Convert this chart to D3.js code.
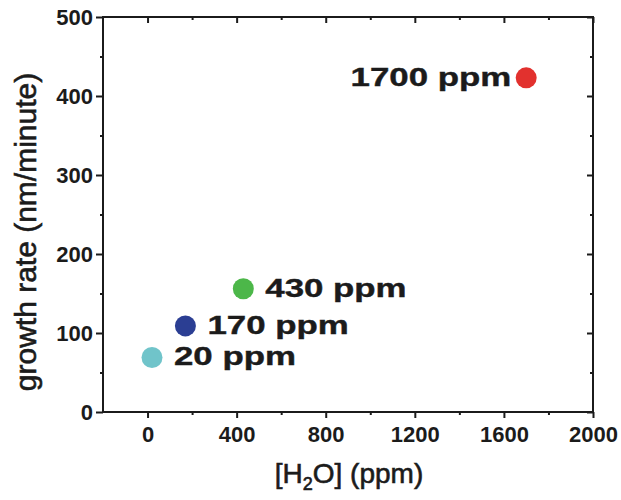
<!DOCTYPE html>
<html>
<head>
<meta charset="utf-8">
<script src="https://cdn.jsdelivr.net/npm/d3@7"></script>
<style>
  body { margin: 0; background: #fff; }
  text { font-family: "Liberation Sans", Arial, sans-serif; fill: #1b1b1b; }
</style>
</head>
<body>
<svg id="chart" width="621" height="500"></svg>
<script>
// Water concentration (ppm) vs. growth rate (nm/minute)
const concentrations = [20, 170, 430, 1700];
const growthRates = [69, 109, 156, 423];
const pointLabels = ["20 ppm", "170 ppm", "430 ppm", "1700 ppm"];
const pointColors = ["#70c4ca", "#2b3e93", "#4cb749", "#e2312e"];
const xMajorTicks = [0, 400, 800, 1200, 1600, 2000];
const xMinorTicks = [200, 600, 1000, 1400, 1800];
const yMajorTicks = [0, 100, 200, 300, 400, 500];
const yMinorTicks = [50, 150, 250, 350, 450];

const svg = d3.select("#chart");
const plot = { left: 103, right: 593, top: 17, bottom: 412 };

const x = d3.scaleLinear().domain([-200, 2000]).range([plot.left, plot.right]);
const y = d3.scaleLinear().domain([0, 500]).range([plot.bottom, plot.top]);

function styleAxis(g) {
  g.select(".domain").remove();
  g.selectAll(".tick line").attr("stroke", "#1b1b1b").attr("stroke-width", 2);
  g.selectAll(".tick text")
    .attr("font-size", 22)
    .attr("font-weight", "bold")
    .attr("fill", "#1b1b1b")
    .style("font-family", "'Liberation Sans', Arial, sans-serif");
}

// bottom axis: outward ticks with labels
svg.append("g").attr("transform", `translate(0,${plot.bottom})`)
  .call(d3.axisBottom(x).tickValues(xMajorTicks).tickSize(6).tickPadding(8).tickFormat(d3.format("d")))
  .call(styleAxis);
svg.append("g").attr("transform", `translate(0,${plot.bottom})`)
  .call(d3.axisBottom(x).tickValues(xMinorTicks).tickSize(3).tickFormat(""))
  .call(styleAxis);

// top axis: inward ticks, no labels
svg.append("g").attr("transform", `translate(0,${plot.top})`)
  .call(d3.axisTop(x).tickValues(xMajorTicks).tickSize(-6).tickFormat(""))
  .call(styleAxis);
svg.append("g").attr("transform", `translate(0,${plot.top})`)
  .call(d3.axisTop(x).tickValues(xMinorTicks).tickSize(-3).tickFormat(""))
  .call(styleAxis);

// left axis: outward ticks with labels
svg.append("g").attr("transform", `translate(${plot.left},0)`)
  .call(d3.axisLeft(y).tickValues(yMajorTicks).tickSize(7).tickPadding(3).tickFormat(d3.format("d")))
  .call(styleAxis);
svg.append("g").attr("transform", `translate(${plot.left},0)`)
  .call(d3.axisLeft(y).tickValues(yMinorTicks).tickSize(3).tickFormat(""))
  .call(styleAxis);

// right axis: inward ticks, no labels
svg.append("g").attr("transform", `translate(${plot.right},0)`)
  .call(d3.axisRight(y).tickValues(yMajorTicks).tickSize(-6).tickFormat(""))
  .call(styleAxis);
svg.append("g").attr("transform", `translate(${plot.right},0)`)
  .call(d3.axisRight(y).tickValues(yMinorTicks).tickSize(-3).tickFormat(""))
  .call(styleAxis);

// frame
svg.append("rect")
  .attr("x", plot.left).attr("y", plot.top)
  .attr("width", plot.right - plot.left).attr("height", plot.bottom - plot.top)
  .attr("fill", "none").attr("stroke", "#1b1b1b").attr("stroke-width", 2);

// data points
const points = concentrations.map((c, i) => ({
  c, r: growthRates[i], label: pointLabels[i], color: pointColors[i]
}));

svg.append("g").selectAll("circle").data(points).join("circle")
  .attr("cx", d => x(d.c)).attr("cy", d => y(d.r))
  .attr("r", 10.5)
  .attr("fill", d => d.color);

// point labels: to the right of the dot, or to the left near the right edge
const onRight = d => d.c < 1200;
const labelGroups = svg.append("g").selectAll("g").data(points).join("g")
  .attr("transform", d => `translate(${x(d.c) + (onRight(d) ? 22 : -15)},${y(d.r) + 8})`);
labelGroups.append("text")
  .attr("transform", "scale(1.34,1)")
  .attr("text-anchor", d => onRight(d) ? "start" : "end")
  .attr("font-size", 26)
  .attr("font-weight", "bold")
  .attr("stroke", "#1b1b1b")
  .attr("stroke-width", 0.4)
  .text(d => d.label);

// axis titles
const xTitle = svg.append("text")
  .attr("x", 349).attr("y", 483)
  .attr("text-anchor", "middle")
  .attr("font-size", 28)
  .attr("stroke", "#1b1b1b")
  .attr("stroke-width", 0.6);
xTitle.append("tspan").text("[H");
xTitle.append("tspan").attr("font-size", 18).attr("dy", 7).text("2");
xTitle.append("tspan").attr("dy", -7).text("O] (ppm)");

svg.append("text")
  .attr("transform", "translate(36,232) rotate(-90)")
  .attr("text-anchor", "middle")
  .attr("font-size", 30)
  .attr("stroke", "#1b1b1b")
  .attr("stroke-width", 0.6)
  .text("growth rate (nm/minute)");
</script>
</body>
</html>
